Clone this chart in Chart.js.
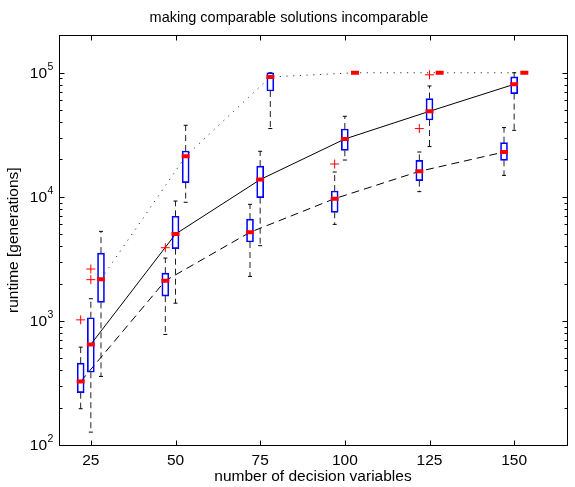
<!DOCTYPE html>
<html>
<head>
<meta charset="utf-8">
<title>making comparable solutions incomparable</title>
<script src="https://cdn.jsdelivr.net/npm/chart.js@4.4.1/dist/chart.umd.min.js"></script>
<style>
  html, body { margin: 0; padding: 0; background: #fff; }
  canvas { display: block; }
</style>
</head>
<body>
<canvas id="runtimeChart" width="575" height="487"></canvas>
<script>
// data block
const problemSizes = [25, 50, 75, 100, 125, 150];
const decadeTicks = [100, 1000, 10000, 100000];

// left boxes, dashed median line
const dashedMedian = [325, 2110, 5180, 9670, 16050, 22970];
const dashedQ1 = [264, 1585, 4325, 7500, 13510, 19680];
const dashedQ3 = [457, 2430, 6620, 11140, 19680, 27340];
const dashedLow = [196, 778, 2285, 6000, 11010, 14890];
const dashedHigh = [615, 3210, 8700, 15850, 22970, 36150];
const dashedOutliers = [[25, 1020], [50, 3890], [100, 18390], [125, 35480]];

// middle boxes, solid median line
const solidMedian = [647, 5010, 13770, 29240, 48920, 80700];
const solidQ1 = [386, 3820, 9850, 23710, 41590, 67920];
const solidQ3 = [1060, 6970, 17700, 35220, 61940, 92500];
const solidLow = [127, 1390, 4040, 19800, 25410, 34360];
const solidHigh = [1510, 9250, 23290, 44580, 78230, 100000];
const solidOutliers = [[25, 2620], [25, 2150], [125, 96300]];

// right boxes, dotted median line
const dottedMedian = [2170, 21240, 92500, 100000, 100000, 100000];
const dottedQ1 = [1410, 13020, 71300, 100000, 100000, 100000];
const dottedQ3 = [3520, 23400, 100000, 100000, 100000, 100000];
const dottedLow = [357, 9040, 35500, 100000, 100000, 100000];
const dottedHigh = [5270, 37730, 100000, 100000, 100000, 100000];
const dottedOutliers = [];

// style block
const series = [
	{ offset: -3, median: dashedMedian, q1: dashedQ1, q3: dashedQ3, low: dashedLow, high: dashedHigh, outliers: dashedOutliers, dash: [8, 5], color: '#000' },
	{ offset: 0, median: solidMedian, q1: solidQ1, q3: solidQ3, low: solidLow, high: solidHigh, outliers: solidOutliers, dash: [], color: '#000' },
	{ offset: 3, median: dottedMedian, q1: dottedQ1, q3: dottedQ3, low: dottedLow, high: dottedHigh, outliers: dottedOutliers, dash: [1.2, 5.5], color: '#333' },
];

Chart.defaults.font.family = '"Liberation Sans", Arial, Helvetica, sans-serif';
Chart.defaults.color = '#000';

const datasets = [];
series.forEach((s) => {
	// line through the medians
	datasets.push({
		type: 'line',
		data: problemSizes.map((n, i) => ({ x: n + s.offset, y: s.median[i] })),
		borderColor: s.color,
		borderWidth: 1,
		borderDash: s.dash,
		pointRadius: 0,
		tension: 0,
		order: 4,
	});
	// whiskers with caps
	const whiskers = [];
	problemSizes.forEach((n, i) => {
		const x = n + s.offset;
		whiskers.push({ x, y: s.q3[i] }, { x, y: s.high[i], cap: true }, { x, y: null });
		whiskers.push({ x, y: s.q1[i] }, { x, y: s.low[i], cap: true }, { x, y: null });
	});
	datasets.push({
		type: 'line',
		data: whiskers,
		borderColor: '#222',
		borderWidth: 1,
		borderDash: [6, 4],
		spanGaps: false,
		pointStyle: 'line',
		pointRadius: (ctx) => (ctx.raw && ctx.raw.cap ? 2 : 0),
		pointBorderColor: '#000',
		pointBorderWidth: 1,
		order: 3,
	});
	// boxes
	datasets.push({
		type: 'bar',
		data: problemSizes.map((n, i) => ({ x: n + s.offset, y: [s.q1[i], s.q3[i]] })),
		backgroundColor: 'rgba(0,0,0,0)',
		borderColor: '#0000ff',
		borderWidth: 1,
		borderSkipped: false,
		barThickness: 7,
		grouped: false,
		order: 2,
	});
	// outliers
	datasets.push({
		type: 'line',
		showLine: false,
		data: s.outliers.map((o) => ({ x: o[0] + s.offset, y: o[1] })),
		pointStyle: 'cross',
		pointRadius: 4.5,
		pointBorderColor: '#ff0000',
		pointBorderWidth: 1,
		order: 1,
	});
	// median marks
	datasets.push({
		type: 'line',
		showLine: false,
		data: problemSizes.map((n, i) => ({ x: n + s.offset, y: s.median[i] })),
		pointStyle: 'line',
		pointRadius: 4,
		pointBorderColor: '#ff0000',
		pointBorderWidth: 4,
		order: 0,
	});
});

// frame, inward ticks and 10^n labels
const axisFrame = {
	id: 'axisFrame',
	afterDraw(chart) {
		const { ctx, chartArea: a, scales: { x, y } } = chart;
		const L = Math.round(a.left) + 0.5;
		const R = Math.round(a.right) + 0.5;
		const T = Math.round(a.top) + 0.5;
		const B = Math.round(a.bottom) + 0.5;
		ctx.save();
		ctx.strokeStyle = '#000';
		ctx.lineWidth = 1;
		ctx.strokeRect(L, T, R - L, B - T);
		ctx.beginPath();
		problemSizes.forEach((n) => {
			const px = Math.round(x.getPixelForValue(n)) + 0.5;
			ctx.moveTo(px, B);
			ctx.lineTo(px, B - 5);
			ctx.moveTo(px, T);
			ctx.lineTo(px, T + 5);
		});
		decadeTicks.forEach((d) => {
			for (let m = 1; m <= 9; m++) {
				const v = m * d;
				if (v >= y.max) break;
				const py = Math.round(y.getPixelForValue(v)) + 0.5;
				const len = m === 1 ? 5 : 3;
				ctx.moveTo(L, py);
				ctx.lineTo(L + len, py);
				ctx.moveTo(R, py);
				ctx.lineTo(R - len, py);
			}
		});
		ctx.stroke();

		ctx.fillStyle = '#000';
		ctx.textBaseline = 'middle';
		decadeTicks.forEach((d) => {
			const py = y.getPixelForValue(d);
			ctx.font = '15.5px "Liberation Sans", Arial, sans-serif';
			ctx.textAlign = 'right';
			ctx.fillText('10', 47, py + 1);
			ctx.font = '10.5px "Liberation Sans", Arial, sans-serif';
			ctx.textAlign = 'left';
			ctx.fillText(String(Math.round(Math.log10(d))), 47.5, py - 6);
		});
		ctx.restore();
	},
};

// config block
const config = {
	type: 'line',
	data: { datasets },
	options: {
		responsive: false,
		animation: false,
		devicePixelRatio: 1,
		layout: { padding: { left: 0, right: -3, top: 0, bottom: 0 } },
		plugins: {
			legend: { display: false },
			tooltip: { enabled: false },
			title: {
				display: true,
				text: 'making comparable solutions incomparable',
				font: { size: 14.5, weight: 'normal' },
				color: '#000',
				padding: { top: 9, bottom: 9 },
			},
		},
		scales: {
			x: {
				type: 'linear',
				min: 15.6,
				max: 165.6,
				offset: false,
				grid: { display: false, drawTicks: false },
				border: { display: false },
				afterBuildTicks: (scale) => {
					scale.ticks = problemSizes.map((v) => ({ value: v }));
				},
				afterFit: (scale) => {
					scale.height = 42;
				},
				ticks: { padding: 6, font: { size: 15.5 }, color: '#000' },
				title: {
					display: true,
					text: 'number of decision variables',
					font: { size: 15.5 },
					color: '#000',
					padding: { top: 0, bottom: 1 },
				},
			},
			y: {
				type: 'logarithmic',
				min: 100,
				max: 200000,
				grid: { display: false, drawTicks: false },
				border: { display: false },
				ticks: { display: false },
				afterFit: (scale) => {
					scale.width = 59;
				},
				title: {
					display: true,
					text: 'runtime [generations]',
					font: { size: 15.5 },
					color: '#000',
					padding: { top: 4, bottom: 0 },
				},
			},
		},
	},
	plugins: [axisFrame],
};

// render block
const runtimeChart = new Chart(document.getElementById('runtimeChart'), config);
</script>
</body>
</html>
